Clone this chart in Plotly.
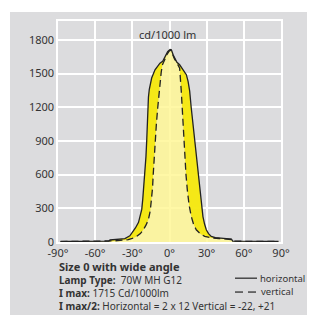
import plotly.graph_objects as go

# ---------------- data ----------------
h_angle = [-88, -70, -55, -49, -48, -44, -40, -36, -32, -30, -27.5, -25, -23.5, -22.4,
           -21.6, -21, -19.8, -19, -18.4, -18, -17.6, -17, -16.3, -14.4, -11.7, -9.5,
           -7.7, -5.5, -3.5, -1.5, 0.5, 1.5, 3, 4.5, 6, 8.2, 10.5, 12, 13.6, 15, 16.3,
           17.5, 19, 20.3, 21.7, 23, 24.4, 25.7, 27, 28.3, 29.7, 31.5, 33.7, 37, 42,
           47, 50, 51, 60, 75, 88]
h_value = [5, 5, 6, 7, 18, 21, 24, 30, 55, 85, 125, 175, 230, 290,
           380, 462, 615, 760, 900, 1050, 1190, 1290, 1360, 1460, 1534, 1570,
           1592, 1610, 1650, 1695, 1715, 1712, 1665, 1625, 1600, 1578, 1545, 1520, 1490, 1430, 1343,
           1200, 1049, 900, 755, 610, 462, 340, 226, 160, 109, 75, 50, 38, 32,
           29, 25, 8, 6, 5, 5]

v_angle = [-88, -60, -45, -38, -33.3, -30, -26.5, -23.5, -21.1, -19, -17.1, -15.5, -14.4,
           -13.7, -13.1, -12.4, -11.7, -10.6, -9.5, -8.6, -7.7, -6.7, -5.8, -4, -2, 0, 1,
           2.5, 4, 6, 8.2, 9.5, 10.9, 12.3, 13.3, 14.4, 15.8, 17.6, 19.5, 21.6, 25, 28.4,
           33, 40, 46, 50, 51, 60, 75, 88]
v_value = [4, 5, 10, 16, 21, 32, 50, 75, 109, 150, 197, 280, 373,
           480, 609, 750, 902, 1050, 1196, 1320, 1431, 1510, 1575, 1625, 1670, 1705, 1705,
           1670, 1630, 1595, 1548, 1343, 1049, 755, 600, 462, 330, 226, 155, 109, 72, 50,
           38, 31, 28, 22, 7, 5, 4, 4]

x_ticks = [-90, -60, -30, 0, 30, 60, 90]
x_tick_labels = ["-90°", "-60°", "-30°", "0°", "30°", "60°", "90°"]
y_ticks = [0, 300, 600, 900, 1200, 1500, 1800]

info_lines = [
    "<span style='font-size:11px'><b>Size 0 with wide angle</b></span>",
    "<b>Lamp Type:</b>  70W MH G12",
    "<b>I max:</b> 1715 Cd/1000lm",
    "<b>I max/2:</b> Horizontal = 2 x 12 Vertical = -22, +21",
]

# ---------------- layout helpers ----------------
OFF = 8                      # page body margin
FW = FH = 315 - OFF          # figure size so it ends at the window edge
L, R, T, B = 58, 281, 19, 242   # plot area in window pixels
W, H = R - L, B - T
def px(x):
    return (x - L) / W
def py(y):
    return (B - y) / H

GREY = "#dcdcde"
TXT = "#333333"
FONT = "Noto Sans"

fig = go.Figure()
fig.add_trace(go.Scatter(x=v_angle, y=v_value, mode="lines", line=dict(width=0),
                         fill="tozeroy", fillcolor="rgba(255,247,150,0.85)",
                         hoverinfo="skip", showlegend=False))
fig.add_trace(go.Scatter(x=h_angle, y=h_value, mode="lines", line=dict(width=0),
                         fill="tonexty", fillcolor="rgba(246,232,12,0.95)",
                         hoverinfo="skip", showlegend=False))
fig.add_trace(go.Scatter(x=h_angle, y=h_value, mode="lines",
                         line=dict(color="#222222", width=1.3), showlegend=False))
fig.add_trace(go.Scatter(x=v_angle, y=v_value, mode="lines",
                         line=dict(color="#222222", width=1.3, dash="7px,4px"),
                         showlegend=False))

fig.update_xaxes(range=[-90, 90], tickvals=x_ticks, ticktext=x_tick_labels,
                 showgrid=True, gridcolor="white", gridwidth=1.5, zeroline=False,
                 showline=True, linecolor="white", linewidth=1.5, mirror=True,
                 ticks="", tickfont=dict(family=FONT, size=11, color=TXT))
fig.update_yaxes(range=[0, 1968], tickvals=y_ticks,
                 showgrid=True, gridcolor="white", gridwidth=1.5, zeroline=False,
                 showline=True, linecolor="white", linewidth=1.5, mirror=True,
                 ticks="", tickfont=dict(family=FONT, size=11, color=TXT))

anns = [
    dict(x=px(167), y=py(33), text="cd/1000 lm", xanchor="center", yanchor="middle", size=11, align="center"),
    dict(x=px(57), y=py(286), text="<br>".join(info_lines), xanchor="left", yanchor="middle", size=10, align="left"),
    dict(x=px(258), y=py(278.5), text="horizontal", xanchor="left", yanchor="middle", size=9.5, align="left"),
    dict(x=px(259), y=py(292), text="vertical", xanchor="left", yanchor="middle", size=9.5, align="left"),
]
for a in anns:
    fig.add_annotation(x=a["x"], y=a["y"], xref="paper", yref="paper", text=a["text"],
                       showarrow=False, xanchor=a["xanchor"], yanchor=a["yanchor"], align=a["align"],
                       font=dict(family=FONT, size=a["size"], color=TXT))

shapes = [
    # white outer margins (top and left)
    dict(type="rect", xref="paper", yref="paper", x0=px(0), x1=px(330), y0=py(10), y1=py(0),
         fillcolor="white", line=dict(width=0), layer="above"),
    dict(type="rect", xref="paper", yref="paper", x0=px(0), x1=px(10), y0=py(330), y1=py(0),
         fillcolor="white", line=dict(width=0), layer="above"),
    # legend samples
    dict(type="line", xref="paper", yref="paper", x0=px(235), x1=px(257), y0=py(278.5), y1=py(278.5),
         line=dict(color="#222222", width=1.2)),
    dict(type="line", xref="paper", yref="paper", x0=px(235), x1=px(243), y0=py(292.5), y1=py(292.5),
         line=dict(color="#222222", width=1.2)),
    dict(type="line", xref="paper", yref="paper", x0=px(248), x1=px(256), y0=py(292.5), y1=py(292.5),
         line=dict(color="#222222", width=1.2)),
]
fig.update_layout(shapes=shapes)

fig.update_layout(width=FW, height=FH,
                  margin=dict(l=L - OFF, r=FW - (R - OFF), t=T - OFF, b=FH - (B - OFF)),
                  paper_bgcolor=GREY, plot_bgcolor=GREY, showlegend=False,
                  font=dict(family=FONT, color=TXT))

fig.write_html("out.html", config={"displayModeBar": False})
